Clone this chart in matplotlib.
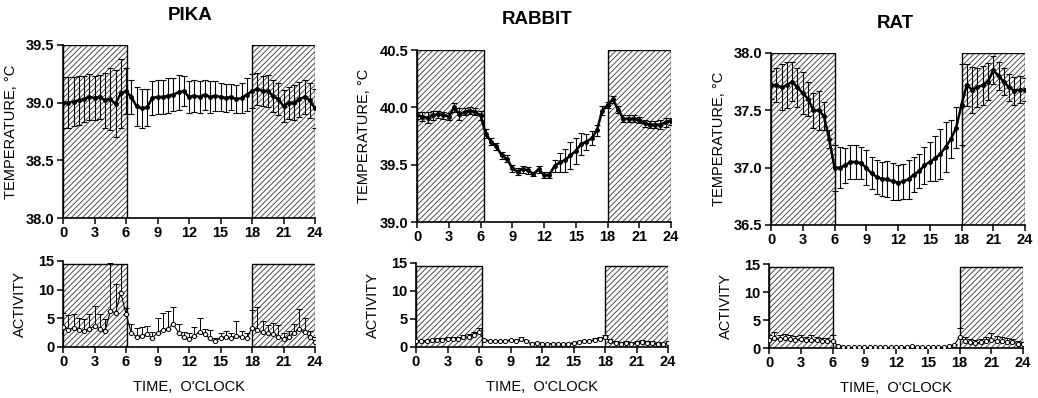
import numpy as np
import matplotlib.pyplot as plt

plt.rcParams['font.family'] = ['Liberation Sans', 'DejaVu Sans']
plt.rcParams['hatch.linewidth'] = 0.6

hours = np.arange(0, 24.5, 0.5)

pika_temp = [39.00, 39.00, 39.01, 39.02, 39.03, 39.05, 39.04, 39.05, 39.02, 39.03,
             38.99, 39.08, 39.10, 39.05, 38.97, 38.95, 38.96, 39.04, 39.05, 39.05,
             39.06, 39.07, 39.09, 39.10, 39.05, 39.06, 39.05, 39.07, 39.05, 39.06,
             39.05, 39.04, 39.05, 39.03, 39.04, 39.07, 39.10, 39.12, 39.10, 39.10,
             39.06, 39.03, 38.97, 39.00, 39.00, 39.03, 39.05, 39.02, 38.95]
pika_temp_err = [0.22, 0.22, 0.21, 0.21, 0.20, 0.20, 0.19, 0.19, 0.24, 0.27,
                 0.29, 0.30, 0.20, 0.15, 0.17, 0.17, 0.16, 0.15, 0.15, 0.15,
                 0.15, 0.14, 0.15, 0.13, 0.14, 0.14, 0.14, 0.13, 0.14, 0.13,
                 0.12, 0.12, 0.11, 0.12, 0.13, 0.14, 0.15, 0.14, 0.13, 0.14,
                 0.14, 0.14, 0.14, 0.14, 0.15, 0.15, 0.15, 0.15, 0.17]

rabbit_temp = [39.93, 39.92, 39.91, 39.93, 39.94, 39.93, 39.92, 40.00, 39.94, 39.96,
               39.97, 39.96, 39.93, 39.77, 39.70, 39.66, 39.58, 39.55, 39.47, 39.44,
               39.46, 39.45, 39.42, 39.46, 39.41, 39.41, 39.49, 39.52, 39.54, 39.58,
               39.62, 39.68, 39.70, 39.73, 39.80, 39.97, 40.02, 40.07, 39.98, 39.90,
               39.90, 39.90, 39.89, 39.86, 39.85, 39.85, 39.85, 39.87, 39.88]
rabbit_temp_err = [0.03, 0.04, 0.05, 0.04, 0.03, 0.03, 0.03, 0.04, 0.05, 0.03,
                   0.03, 0.03, 0.04, 0.04, 0.03, 0.03, 0.03, 0.03, 0.03, 0.03,
                   0.03, 0.03, 0.02, 0.03, 0.03, 0.03, 0.05, 0.08, 0.10, 0.12,
                   0.11, 0.10, 0.07, 0.06, 0.05, 0.04, 0.03, 0.03, 0.03, 0.03,
                   0.03, 0.03, 0.03, 0.03, 0.03, 0.03, 0.04, 0.04, 0.03]

rat_temp = [37.72, 37.72, 37.70, 37.72, 37.75, 37.70, 37.65, 37.60, 37.50, 37.50,
            37.45, 37.25, 37.00, 37.00, 37.02, 37.05, 37.05, 37.04, 37.00, 36.95,
            36.92, 36.90, 36.90, 36.88, 36.87, 36.88, 36.90, 36.94, 36.97, 37.02,
            37.05, 37.08, 37.12, 37.18, 37.25, 37.35, 37.55, 37.72, 37.68, 37.70,
            37.72, 37.75, 37.85, 37.80, 37.75, 37.70, 37.67, 37.68, 37.68]
rat_temp_err = [0.12, 0.15, 0.20, 0.20, 0.17, 0.17, 0.18, 0.15, 0.15, 0.17,
                0.12, 0.08, 0.20, 0.18, 0.15, 0.15, 0.15, 0.14, 0.15, 0.14,
                0.15, 0.15, 0.16, 0.16, 0.15, 0.15, 0.17, 0.15, 0.15, 0.16,
                0.17, 0.20, 0.22, 0.22, 0.17, 0.18, 0.35, 0.18, 0.20, 0.17,
                0.17, 0.16, 0.12, 0.12, 0.12, 0.12, 0.12, 0.12, 0.10]

pika_act = [3.5, 3.0, 3.3, 3.0, 2.8, 3.2, 3.6, 3.2, 2.8, 6.2,
            6.0, 9.5, 5.8, 2.5, 1.8, 2.0, 2.2, 1.6, 2.5, 3.0,
            3.2, 4.0, 2.5, 1.7, 1.4, 2.0, 2.6, 2.2, 1.5, 1.0,
            1.6, 1.8, 1.5, 2.0, 1.8, 1.5, 3.4, 3.0, 2.6, 2.4,
            2.2, 1.8, 1.4, 1.8, 2.5, 3.2, 2.6, 1.8, 0.9]
pika_act_err = [2.5, 2.5, 2.5, 2.0, 2.0, 2.5, 3.5, 2.5, 2.0, 8.5,
                5.0, 5.0, 1.0, 1.5, 1.5, 1.5, 1.5, 1.0, 2.5, 3.0,
                3.0, 3.0, 1.5, 1.0, 1.0, 1.5, 2.5, 1.0, 1.5, 0.5,
                0.8, 1.0, 1.0, 2.5, 1.0, 1.0, 3.0, 4.0, 2.0, 1.5,
                2.0, 2.0, 1.0, 1.0, 1.5, 3.5, 2.5, 1.0, 0.8]

rabbit_act = [1.0, 1.1, 1.1, 1.2, 1.3, 1.3, 1.4, 1.4, 1.5, 1.7,
              1.8, 2.1, 2.6, 1.2, 1.1, 1.0, 1.1, 1.0, 1.2, 1.1,
              1.4, 1.0, 0.6, 0.7, 0.6, 0.5, 0.6, 0.6, 0.5, 0.6,
              0.7, 0.9, 1.0, 1.1, 1.3, 1.4, 1.8, 1.0, 0.8, 0.6,
              0.7, 0.6, 0.8, 0.9, 0.7, 0.8, 0.6, 0.5, 0.7]
rabbit_act_err = [0.2, 0.2, 0.2, 0.2, 0.3, 0.3, 0.3, 0.3, 0.3, 0.4,
                  0.5, 0.6, 0.8, 0.3, 0.2, 0.2, 0.2, 0.2, 0.2, 0.2,
                  0.3, 0.2, 0.2, 0.2, 0.2, 0.2, 0.2, 0.2, 0.2, 0.2,
                  0.2, 0.2, 0.2, 0.2, 0.3, 0.3, 0.4, 0.4, 0.3, 0.3,
                  0.3, 0.3, 0.3, 0.3, 0.3, 0.3, 0.3, 0.3, 0.3]

rat_act = [1.5, 1.8, 1.6, 1.7, 1.6, 1.5, 1.6, 1.4, 1.5, 1.4,
           1.3, 1.2, 1.3, 0.4, 0.1, 0.1, 0.1, 0.1, 0.1, 0.1,
           0.1, 0.1, 0.1, 0.1, 0.1, 0.1, 0.2, 0.3, 0.2, 0.1,
           0.1, 0.1, 0.1, 0.2, 0.3, 0.5, 2.0, 1.2, 1.0, 0.9,
           1.0, 1.2, 1.5, 1.3, 1.2, 1.0, 1.0, 0.8, 0.7]
rat_act_err = [0.8, 1.0, 0.8, 0.8, 0.7, 0.7, 0.8, 0.6, 0.8, 0.6,
               0.5, 0.5, 1.0, 0.2, 0.0, 0.0, 0.0, 0.0, 0.0, 0.0,
               0.0, 0.0, 0.0, 0.0, 0.0, 0.0, 0.0, 0.0, 0.0, 0.0,
               0.0, 0.0, 0.0, 0.0, 0.1, 0.2, 1.5, 0.8, 0.6, 0.6,
               0.6, 0.8, 1.2, 0.8, 0.7, 0.7, 0.6, 0.5, 0.4]

species = ['PIKA', 'RABBIT', 'RAT']
temps = [pika_temp, rabbit_temp, rat_temp]
temp_errs = [pika_temp_err, rabbit_temp_err, rat_temp_err]
acts = [pika_act, rabbit_act, rat_act]
act_errs = [pika_act_err, rabbit_act_err, rat_act_err]
temp_ylims = [(38.0, 39.5), (39.0, 40.5), (36.5, 38.0)]
dark_end = [6.1, 6.3, 6.0]

W, H = 1038, 398
# pixel boxes: (left, right, top, bottom)
top_boxes = [(63, 315, 45, 218), (417, 671, 50, 222), (771, 1025, 53, 225)]
bot_boxes = [(63, 315, 261, 347), (416, 668, 263, 347), (769, 1023, 264, 348)]
title_pos = [(190, 15), (537, 20), (895, 23)]

fig = plt.figure(figsize=(W / 100, H / 100), dpi=100)


def px_axes(box):
    l, r, t, b = box
    return fig.add_axes([l / W, 1 - b / H, (r - l) / W, (b - t) / H])


def style(ax):
    ax.spines['top'].set_visible(False)
    ax.spines['right'].set_visible(False)
    ax.spines['left'].set_linewidth(1.2)
    ax.spines['bottom'].set_linewidth(1.2)
    ax.set_xlim(0, 24)
    ax.set_xticks(range(0, 25, 3))
    ax.tick_params(direction='out', length=4, width=1.1, labelsize=10.5, pad=2)
    for lab in ax.get_xticklabels() + ax.get_yticklabels():
        lab.set_fontweight('bold')


def dark_boxes(ax, top, end6):
    for x0, x1 in [(0, end6), (18, 24)]:
        ax.fill_between([x0, x1], ax.get_ylim()[0], top, facecolor='white',
                        edgecolor='#333333', hatch='//////', linewidth=0, zorder=1)
        ax.plot([x0, x0, x1, x1], [ax.get_ylim()[0], top, top, ax.get_ylim()[0]],
                color='black', lw=1.0, zorder=2)


for i in range(3):
    ax = px_axes(top_boxes[i])
    lo, hi = temp_ylims[i]
    ax.set_ylim(lo, hi)
    dark_boxes(ax, hi, dark_end[i])
    ax.errorbar(hours, temps[i], yerr=temp_errs[i], color='black', lw=1.8,
                elinewidth=0.8, capsize=2.5, capthick=0.8, marker='o', ms=2.5,
                zorder=3)
    ax.set_yticks(np.arange(lo, hi + 0.01, 0.5))
    ax.yaxis.set_major_formatter(plt.FormatStrFormatter('%.1f'))
    style(ax)
    ax.set_ylabel('TEMPERATURE, °C', fontsize=10.5, labelpad=6)
    fig.text(title_pos[i][0] / W, 1 - title_pos[i][1] / H, species[i],
             ha='center', va='center', fontsize=13.5, fontweight='bold')

    ax2 = px_axes(bot_boxes[i])
    ax2.set_ylim(0, 15)
    dark_boxes(ax2, 14.5, dark_end[i])
    ax2.errorbar(hours, acts[i], yerr=[np.zeros(len(acts[i])), act_errs[i]],
                 color='black', lw=0.8, elinewidth=0.7, capsize=2.5, capthick=0.7,
                 marker='o', ms=3, mfc='white', mec='black', mew=0.7, zorder=3)
    ax2.set_yticks([0, 5, 10, 15])
    style(ax2)
    ax2.set_ylabel('ACTIVITY', fontsize=10.5, labelpad=8)
    ax2.set_xlabel("TIME,  O'CLOCK", fontsize=10.5, labelpad=8)

fig.savefig('out.png', dpi=100)
